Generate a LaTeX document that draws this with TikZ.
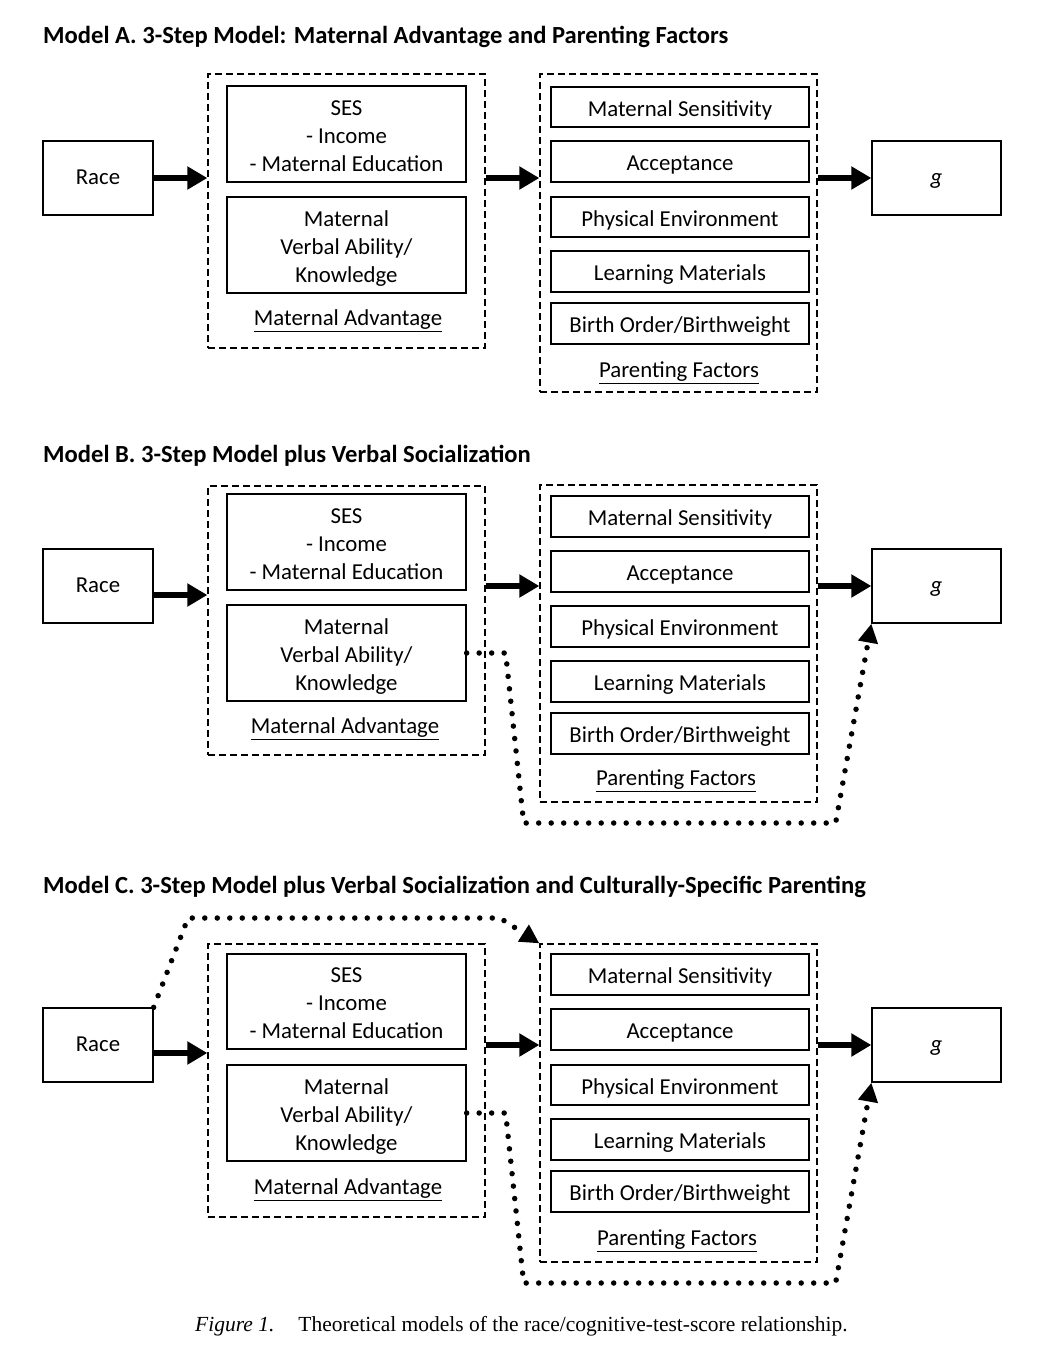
\documentclass[tikz,border=0pt]{standalone}
\usepackage{fontspec}
\setmainfont{Carlito}
\newfontfamily\capfont{Liberation Serif}
\usetikzlibrary{arrows.meta}
\begin{document}
\begin{tikzpicture}[x=1pt,y=-1pt,
 box/.style={draw, line width=1.3pt, inner sep=0pt, align=center, text height=21.5pt, text depth=3pt, font=\fontsize{22.8}{28}\selectfont},
 tribox/.style={box, text height=77.5pt, text depth=3pt},
 endbox/.style={box, text height=15pt, text depth=3pt},
 grp/.style={draw, dash pattern=on 7pt off 4pt, line width=1.3pt, inner sep=0pt},
 lab/.style={font=\fontsize{22.8}{27.5}\selectfont, inner sep=0pt},
 ttl/.style={font=\bfseries\fontsize{24.6}{28}\selectfont, anchor=base west, inner sep=0pt},
 bigarrow/.style={line width=6pt, -{Triangle[length=20pt,width=22pt]}},
 dotline/.style={line width=5.5pt, line cap=round, dash pattern=on 0pt off 12.5pt},
 dotarrow/.style={dotline, -{Triangle[length=19pt,width=19pt]}}
]
\useasboundingbox (0,0) rectangle (1046,1368);

% ---------------- Model A ----------------
\node[ttl] (A-title) at (43,43) {Model A. 3-Step Model: Maternal Advantage and Parenting Factors};
\node[endbox, minimum width=110pt, minimum height=74pt] (A-race) at (98,178) {Race};
\node[grp, minimum width=277pt, minimum height=274pt] (A-ma) at (346.5,211) {};
\node[tribox, minimum width=239pt, minimum height=96pt] (A-ses) at (346.5,134) {SES\\- Income\\- Maternal Education};
\node[tribox, minimum width=239pt, minimum height=96pt] (A-mv) at (346.5,245) {Maternal\\Verbal Ability/\\Knowledge};
\node[lab] (A-malab) at (348,321) {\underline{Maternal Advantage}};
\node[grp, minimum width=277pt, minimum height=318pt] (A-pf) at (678.5,233) {};
\node[box, minimum width=258pt, minimum height=40pt] (A-ms) at (680,107) {Maternal Sensitivity};
\node[box, minimum width=258pt, minimum height=41pt] (A-acc) at (680,161.5) {Acceptance};
\node[box, minimum width=258pt, minimum height=40pt] (A-pe) at (680,217) {Physical Environment};
\node[box, minimum width=258pt, minimum height=41pt] (A-lm) at (680,271.5) {Learning Materials};
\node[box, minimum width=258pt, minimum height=41pt] (A-bo) at (680,323.5) {Birth Order/Birthweight};
\node[lab] (A-pflab) at (679,373) {\underline{Parenting Factors}};
\node[endbox, minimum width=129pt, minimum height=74pt] (A-g) at (936.5,178) {\itshape g};
\draw[bigarrow] (A-race.east) -- (A-race.east -| A-ma.west);
\draw[bigarrow] (A-ma.east |- A-g) -- (A-pf.west |- A-g);
\draw[bigarrow] (A-pf.east |- A-g) -- (A-g.west);

% ---------------- Model B ----------------
\node[ttl] (B-title) at (43,462) {Model B. 3-Step Model plus Verbal Socialization};
\node[endbox, minimum width=110pt, minimum height=74pt] (B-race) at (98,586) {Race};
\node[grp, minimum width=277pt, minimum height=269pt] (B-ma) at (346.5,620.5) {};
\node[tribox, minimum width=239pt, minimum height=96pt] (B-ses) at (346.5,542) {SES\\- Income\\- Maternal Education};
\node[tribox, minimum width=239pt, minimum height=96pt] (B-mv) at (346.5,653) {Maternal\\Verbal Ability/\\Knowledge};
\node[lab] (B-malab) at (345,729) {\underline{Maternal Advantage}};
\node[grp, minimum width=277pt, minimum height=317pt] (B-pf) at (678.5,643.5) {};
\node[box, minimum width=258pt, minimum height=41pt] (B-ms) at (680,516.5) {Maternal Sensitivity};
\node[box, minimum width=258pt, minimum height=41pt] (B-acc) at (680,571.5) {Acceptance};
\node[box, minimum width=258pt, minimum height=41pt] (B-pe) at (680,626.5) {Physical Environment};
\node[box, minimum width=258pt, minimum height=41pt] (B-lm) at (680,681.5) {Learning Materials};
\node[box, minimum width=258pt, minimum height=41pt] (B-bo) at (680,733.5) {Birth Order/Birthweight};
\node[lab] (B-pflab) at (676,781) {\underline{Parenting Factors}};
\node[endbox, minimum width=129pt, minimum height=74pt] (B-g) at (936.5,586) {\itshape g};
\draw[bigarrow] ([yshift=-9pt]B-race.east) -- ([yshift=-9pt]B-race.east -| B-ma.west);
\draw[bigarrow] (B-ma.east |- B-g) -- (B-pf.west |- B-g);
\draw[bigarrow] (B-pf.east |- B-g) -- (B-g.west);
\draw[dotarrow] (B-mv.east) -- ++(39,0) -- ++(18,170) -- ++(312,0) -- (B-g.south west);

% ---------------- Model C ----------------
\node[ttl] (C-title) at (43,893) {Model C. 3-Step Model plus Verbal Socialization and Culturally-Specific Parenting};
\node[endbox, minimum width=110pt, minimum height=74pt] (C-race) at (98,1045) {Race};
\node[grp, minimum width=277pt, minimum height=273pt] (C-ma) at (346.5,1080.5) {};
\node[tribox, minimum width=239pt, minimum height=95pt] (C-ses) at (346.5,1001.5) {SES\\- Income\\- Maternal Education};
\node[tribox, minimum width=239pt, minimum height=96pt] (C-mv) at (346.5,1113) {Maternal\\Verbal Ability/\\Knowledge};
\node[lab] (C-malab) at (348,1190) {\underline{Maternal Advantage}};
\node[grp, minimum width=277pt, minimum height=318pt] (C-pf) at (678.5,1103) {};
\node[box, minimum width=258pt, minimum height=41pt] (C-ms) at (680,974.5) {Maternal Sensitivity};
\node[box, minimum width=258pt, minimum height=41pt] (C-acc) at (680,1029.5) {Acceptance};
\node[box, minimum width=258pt, minimum height=40pt] (C-pe) at (680,1085) {Physical Environment};
\node[box, minimum width=258pt, minimum height=41pt] (C-lm) at (680,1139.5) {Learning Materials};
\node[box, minimum width=258pt, minimum height=41pt] (C-bo) at (680,1191.5) {Birth Order/Birthweight};
\node[lab] (C-pflab) at (677,1241) {\underline{Parenting Factors}};
\node[endbox, minimum width=129pt, minimum height=74pt] (C-g) at (936.5,1045) {\itshape g};
\draw[bigarrow] ([yshift=-8pt]C-race.east) -- ([yshift=-8pt]C-race.east -| C-ma.west);
\draw[bigarrow] (C-ma.east |- C-g) -- (C-pf.west |- C-g);
\draw[bigarrow] (C-pf.east |- C-g) -- (C-g.west);
\draw[dotarrow] (C-mv.east) -- ++(39,0) -- ++(18,170) -- ++(312,0) -- (C-g.south west);
\draw[dotarrow] (C-race.north east) -- (188,918) -- (500,918) -- (C-pf.north west);

% ---------------- Caption ----------------
\node[anchor=base west, inner sep=0pt, font=\capfont\fontsize{21.5}{24}\selectfont] (cap) at (195,1331)
  {\textit{Figure 1.}\hspace{24pt}Theoretical models of the race/cognitive-test-score relationship.};
\end{tikzpicture}
\end{document}
